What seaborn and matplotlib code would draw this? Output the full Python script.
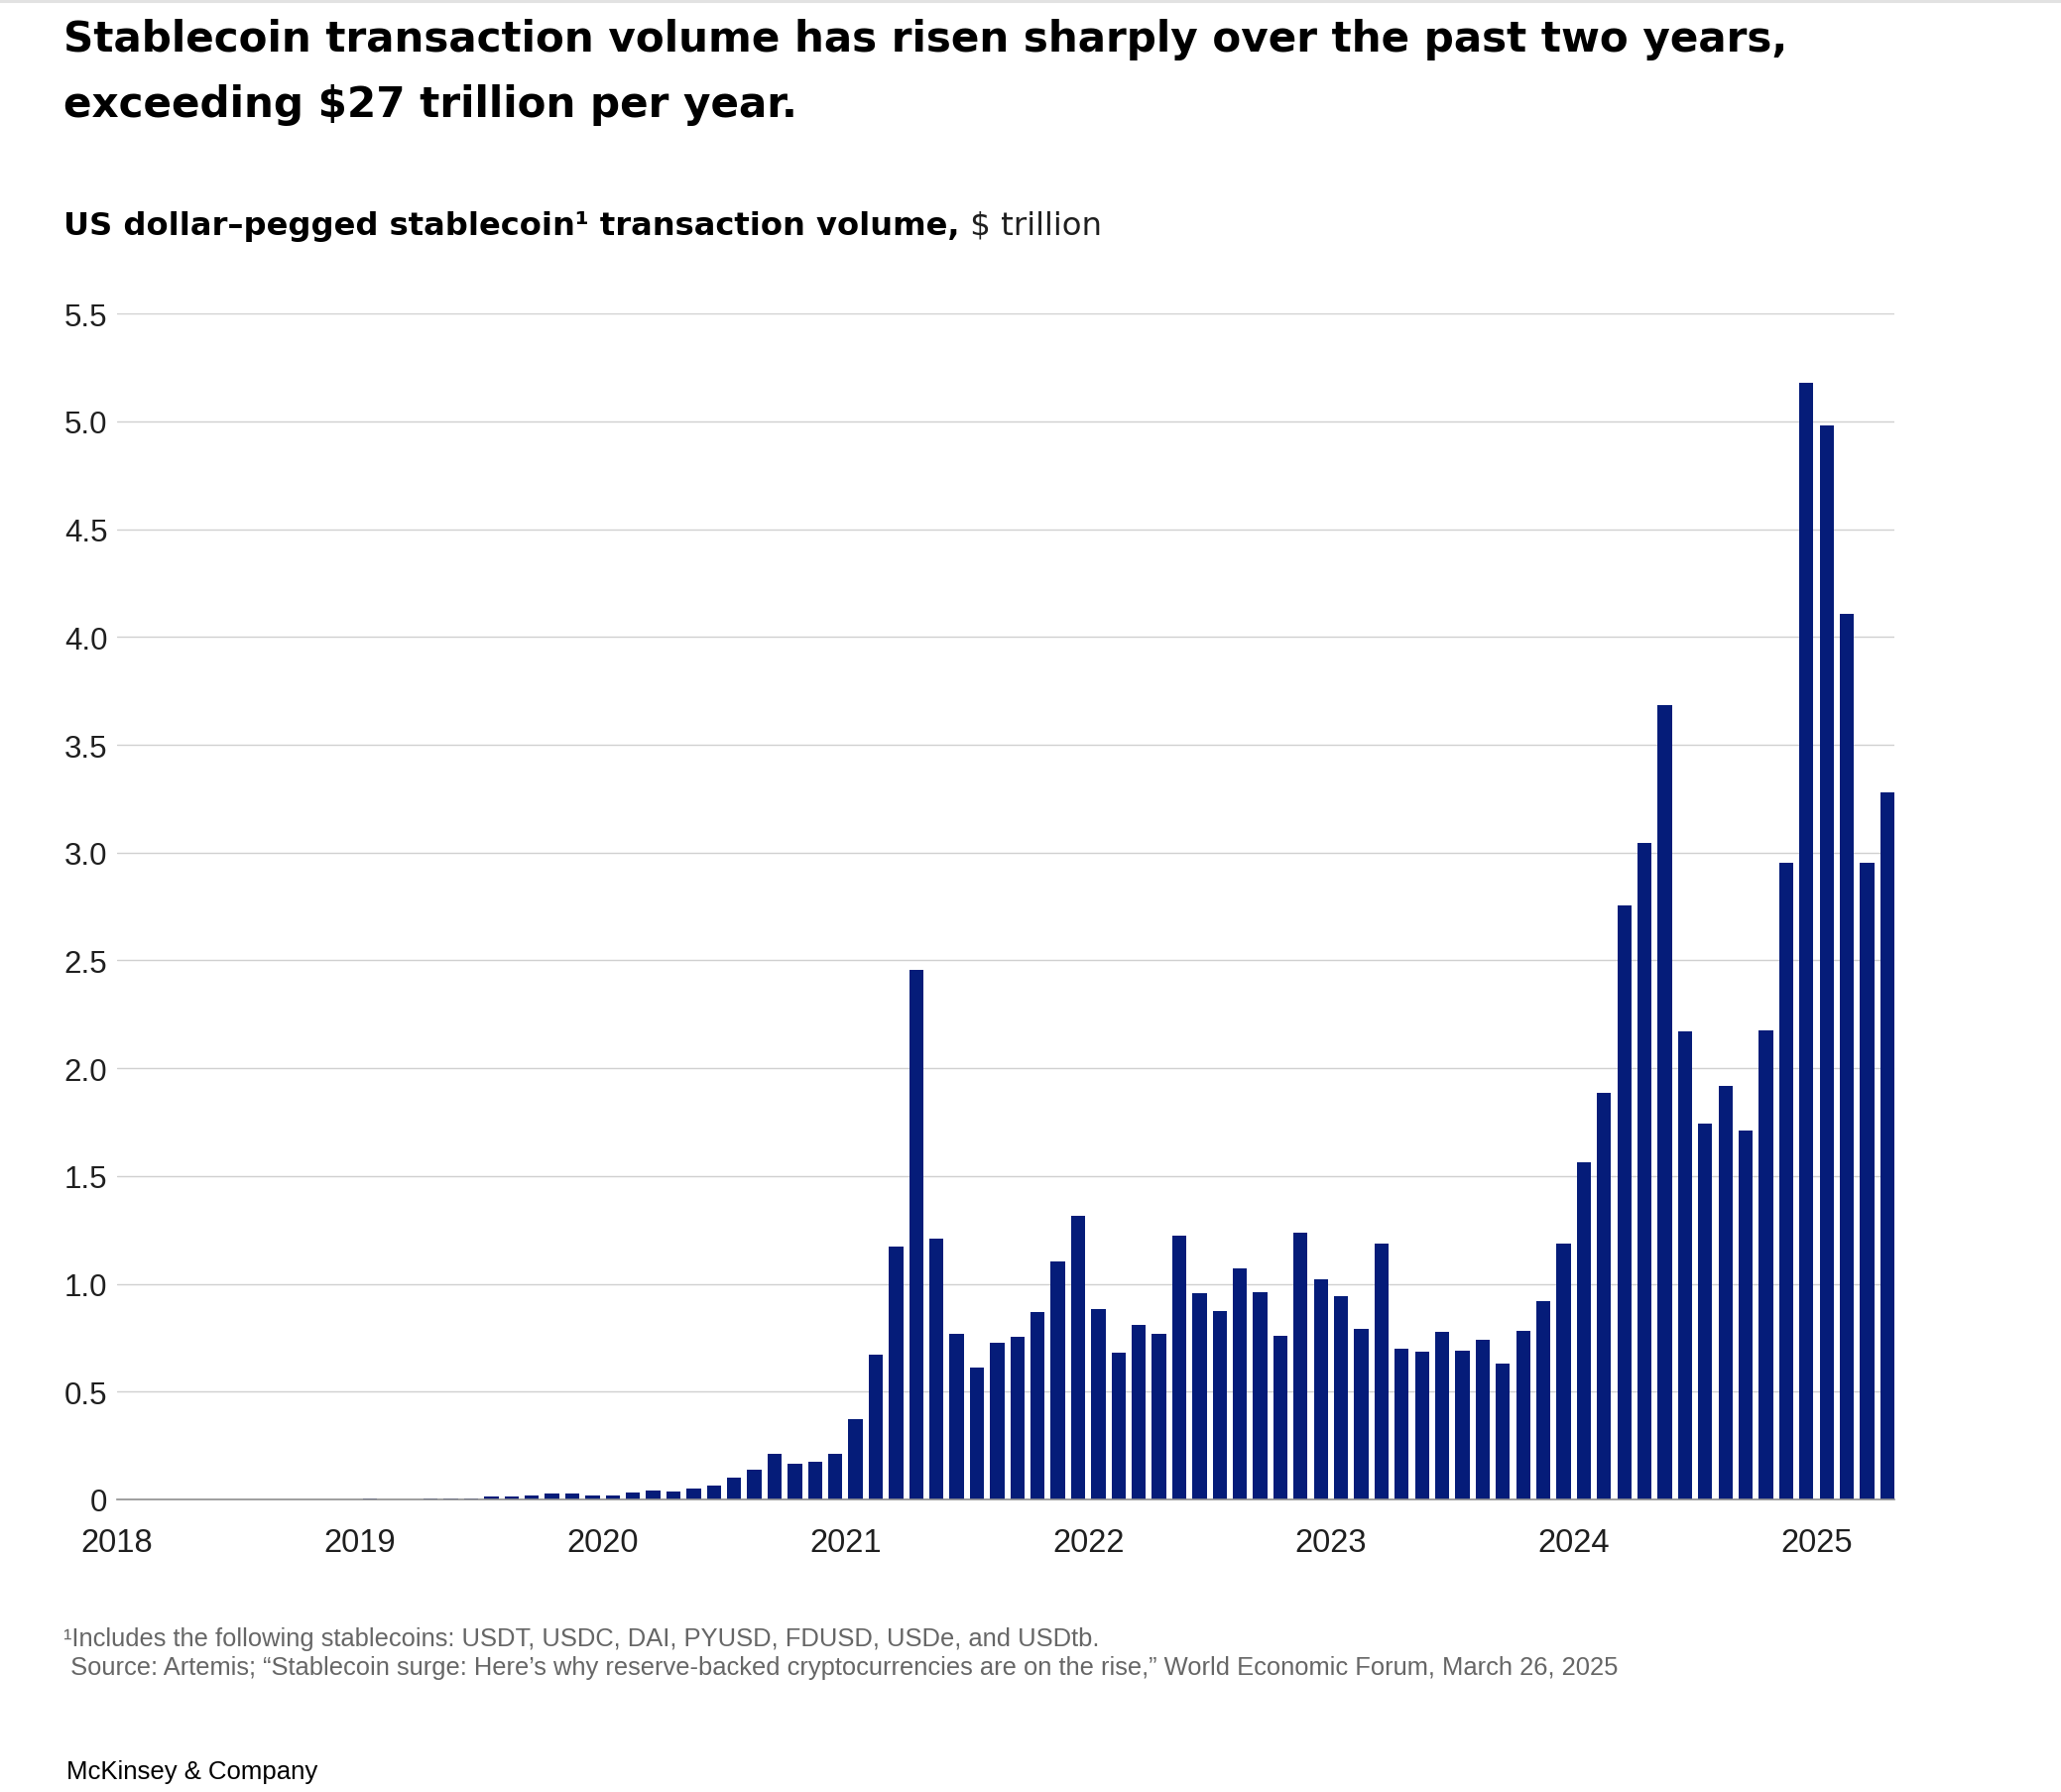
import numpy as np
import pandas as pd
import matplotlib
matplotlib.use("Agg")
import matplotlib.pyplot as plt
import seaborn as sns

# monthly US dollar-pegged stablecoin transaction volume, $ trillion
vol_2018 = [0.0, 0.0, 0.0, 0.0, 0.0, 0.0, 0.0, 0.0, 0.0, 0.0, 0.0, 0.0]
vol_2019 = [0.002, 0.001, 0.001, 0.003, 0.004, 0.006, 0.012, 0.014, 0.018, 0.026, 0.025, 0.020]
vol_2020 = [0.020, 0.030, 0.043, 0.037, 0.051, 0.062, 0.100, 0.136, 0.213, 0.165, 0.174, 0.210]
vol_2021 = [0.374, 0.671, 1.175, 2.455, 1.210, 0.766, 0.610, 0.727, 0.753, 0.869, 1.104, 1.317]
vol_2022 = [0.883, 0.680, 0.810, 0.770, 1.222, 0.955, 0.875, 1.071, 0.961, 0.758, 1.236, 1.021]
vol_2023 = [0.944, 0.793, 1.187, 0.700, 0.684, 0.777, 0.692, 0.740, 0.630, 0.781, 0.921, 1.187]
vol_2024 = [1.563, 1.887, 2.754, 3.047, 3.685, 2.172, 1.742, 1.916, 1.712, 2.175, 2.951, 5.180]
vol_2025 = [4.983, 4.107, 2.951, 3.279]

first_month = "2018-01-01"
last_month = "2025-04-01"

year_ticks = [2018, 2019, 2020, 2021, 2022, 2023, 2024, 2025]
y_ticks = [0, 0.5, 1.0, 1.5, 2.0, 2.5, 3.0, 3.5, 4.0, 4.5, 5.0, 5.5]
y_tick_labels = ["0", "0.5", "1.0", "1.5", "2.0", "2.5", "3.0", "3.5", "4.0", "4.5", "5.0", "5.5"]

title_1 = "Stablecoin transaction volume has risen sharply over the past two years,"
title_2 = "exceeding $27 trillion per year."
subtitle_bold = "US dollar\u2013pegged stablecoin\u00b9 transaction volume,"
subtitle_unit = " $ trillion"
note_1 = "\u00b9Includes the following stablecoins: USDT, USDC, DAI, PYUSD, FDUSD, USDe, and USDtb."
note_2 = (" Source: Artemis; \u201cStablecoin surge: Here\u2019s why reserve-backed cryptocurrencies "
          "are on the rise,\u201d World Economic Forum, March 26, 2025")
brand = "McKinsey & Company"

BAR = "#051c79"
TITLE_FONT = ["DejaVu Sans"]

months = pd.date_range(first_month, last_month, freq="MS")
df = pd.DataFrame({
    "month": months,
    "volume": vol_2018 + vol_2019 + vol_2020 + vol_2021 + vol_2022 + vol_2023 + vol_2024 + vol_2025,
})
# bar sits in the middle of its month on a decimal-year axis
df["pos"] = df["month"].dt.year + (df["month"].dt.month - 0.5) / 12

sns.set_style("white")
plt.rcParams["font.family"] = ["Liberation Sans", "DejaVu Sans"]

fig = plt.figure(figsize=(20.78, 18.08), dpi=100)
ax = fig.add_axes([0.0568, 0.1632, 0.8624, 0.6613])

sns.barplot(data=df, x="pos", y="volume", native_scale=True, width=0.7,
            color=BAR, saturation=1, errorbar=None, linewidth=0, ax=ax)

ax.set_xlim(2018, 2025.321)
ax.set_ylim(0, 5.5)
ax.set_xticks(year_ticks)
ax.set_xticklabels([str(y) for y in year_ticks])
ax.set_yticks(y_ticks)
ax.set_yticklabels(y_tick_labels)
ax.set_xlabel("")
ax.set_ylabel("")

ax.set_axisbelow(True)
ax.yaxis.grid(True, color="#d0d0d0", linewidth=1.0)
ax.xaxis.grid(False)
for side in ["top", "right", "left"]:
    ax.spines[side].set_visible(False)
ax.spines["bottom"].set_color("#8f8f8f")
ax.spines["bottom"].set_linewidth(1.2)

ax.tick_params(axis="x", length=12, width=0.8, color="#c8c8c8", pad=8,
               labelsize=23.5, labelcolor="#1f1f1f")
ax.tick_params(axis="y", length=0, pad=7, labelsize=22.5, labelcolor="#1f1f1f")

# headline
fig.text(0.0308, 0.9712, title_1, fontsize=30.3, fontweight="bold", family=TITLE_FONT,
         va="baseline", color="#000000")
fig.text(0.0308, 0.9348, title_2, fontsize=30.3, fontweight="bold", family=TITLE_FONT,
         va="baseline", color="#000000")

# chart subtitle: bold part followed by the unit in regular weight
sub = fig.text(0.0308, 0.8690, subtitle_bold, fontsize=23.1, fontweight="bold",
               family=TITLE_FONT, va="baseline", color="#000000")
fig.canvas.draw()
bb = sub.get_window_extent()
fig.text(bb.x1 / fig.bbox.width, 0.8690, subtitle_unit, fontsize=23.3,
         family=TITLE_FONT, va="baseline", color="#1f1f1f")

fig.text(0.0308, 0.0819, note_1, fontsize=18.4, color="#666666", va="baseline")
fig.text(0.0308, 0.0658, note_2, fontsize=18.4, color="#666666", va="baseline")
fig.text(0.0322, 0.0075, brand, fontsize=18.5, color="#000000", va="baseline")

# thin rule along the top edge
fig.add_artist(plt.Line2D([0, 1], [0.9991, 0.9991], transform=fig.transFigure,
                          color="#e2e2e2", linewidth=2.2))

fig.savefig("out.png", dpi=100)
